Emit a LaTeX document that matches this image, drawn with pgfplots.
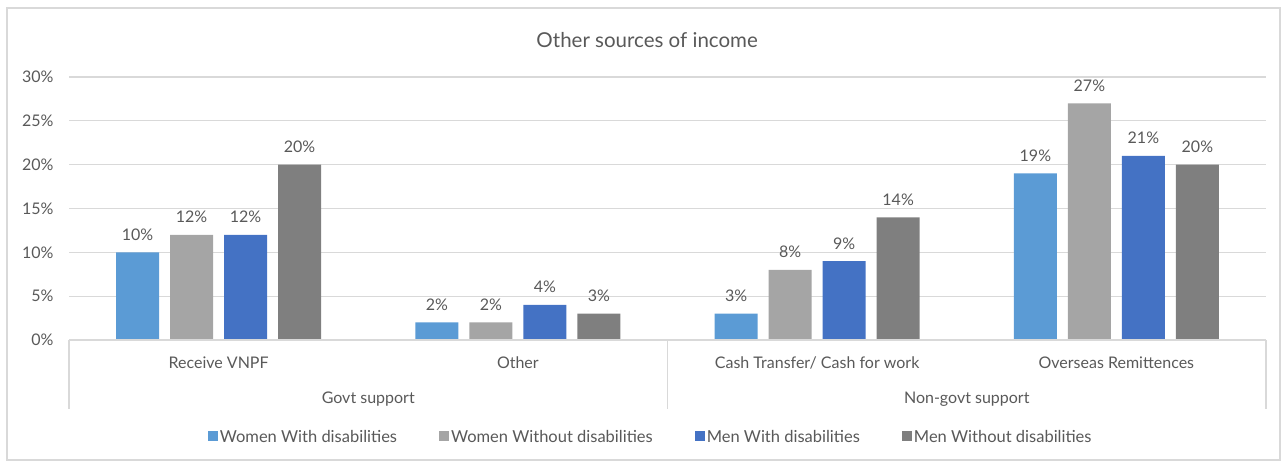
\documentclass[border=0pt]{standalone}
\usepackage{fontspec}
\setmainfont{Lato}
\usepackage{pgfplots}
\pgfplotsset{compat=1.18}

\definecolor{cA}{HTML}{5B9BD5}
\definecolor{cB}{HTML}{A5A5A5}
\definecolor{cC}{HTML}{4472C4}
\definecolor{cD}{HTML}{7F7F7F}
\definecolor{txt}{HTML}{595959}
\definecolor{gridc}{HTML}{D9D9D9}

\begin{document}
\begin{tikzpicture}
\begin{axis}[
    scale only axis,
    width=1197pt, height=263pt,
    ybar=11pt, bar width=43pt,
    xmin=-0.5, xmax=3.5,
    ymin=0, ymax=30,
    xtick={0,1,2,3},
    xticklabels={Receive VNPF, Other, Cash Transfer/ Cash for work, Overseas Remittences},
    ytick={0,5,10,15,20,25,30},
    yticklabels={0\%,5\%,10\%,15\%,20\%,25\%,30\%},
    major tick length=0pt,
    axis line style={draw=none},
    ymajorgrids, grid style={gridc, line width=1.2pt},
    tick label style={font=\fontsize{16}{19}\selectfont, text=txt},
    xticklabel style={anchor=base, yshift=-28pt},
    yticklabel style={anchor=east, xshift=-12pt},
    /pgf/number format/assume math mode=true,
    nodes near coords={\pgfmathprintnumber{\pgfplotspointmeta}\%},
    every node near coord/.append style={font=\fontsize{16}{19}\selectfont, text=txt, anchor=base, yshift=12pt},
    clip=false,
    legend columns=4,
    legend style={draw=none, at={(0.486,-0.369)}, anchor=center,
        font=\fontsize{16.5}{19}\selectfont, text=txt,
        /tikz/every even column/.append style={column sep=40pt}},
    legend image code/.code={\fill[#1] (0pt,-4pt) rectangle (10pt,6pt);},
]
\addplot[fill=cA, draw=none] coordinates {(0,10) (1,2) (2,3) (3,19)};
\addplot[fill=cB, draw=none] coordinates {(0,12) (1,2) (2,8) (3,27)};
\addplot[fill=cC, draw=none] coordinates {(0,12) (1,4) (2,9) (3,21)};
\addplot[fill=cD, draw=none] coordinates {(0,20) (1,3) (2,14) (3,20)};
\legend{Women With disabilities, Women Without disabilities, Men With disabilities, Men Without disabilities}

% category axis lines
\draw[gridc, line width=1.5pt] (axis cs:-0.5,0) -- (axis cs:3.5,0);
\draw[gridc, line width=1.5pt] (axis cs:-0.5,0) -- ([yshift=-69pt]axis cs:-0.5,0);
\draw[gridc, line width=1.5pt] (axis cs:1.5,0) -- ([yshift=-69pt]axis cs:1.5,0);
\draw[gridc, line width=1.5pt] (axis cs:3.5,0) -- ([yshift=-69pt]axis cs:3.5,0);
\node[anchor=base, text=txt, font=\fontsize{16}{19}\selectfont] at ([yshift=-63pt]axis cs:0.5,0) {Govt support};
\node[anchor=base, text=txt, font=\fontsize{16}{19}\selectfont] at ([yshift=-63pt]axis cs:2.5,0) {Non-govt support};

% title
\node[text=txt, font=\fontsize{20.5}{24}\selectfont] at ([yshift=37pt]rel axis cs:0.483,1) {Other sources of income};

% outer frame and page size
\draw[gridc, line width=1.5pt] ([xshift=-62pt,yshift=-120pt]rel axis cs:0,0) rectangle ([xshift=14pt,yshift=69pt]rel axis cs:1,1);
\path ([xshift=-69pt,yshift=-121pt]rel axis cs:0,0) rectangle ([xshift=21pt,yshift=77pt]rel axis cs:1,1);
\end{axis}
\end{tikzpicture}
\end{document}
